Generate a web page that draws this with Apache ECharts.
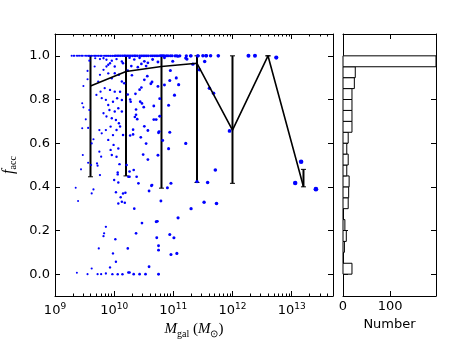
<!DOCTYPE html>
<html>
<head>
<meta charset="utf-8">
<script src="https://cdn.jsdelivr.net/npm/echarts@6/dist/echarts.min.js"></script>
<style>
  html, body { margin: 0; padding: 0; background: #fff; }
  #chart { width: 463px; height: 349px; }
</style>
</head>
<body>
<div id="chart"></div>
<script>
// galaxies sitting at f_acc = 1 (log10 of M_gal)
const topRowLogMass = [
  9.28, 9.31, 9.33, 9.37, 9.39, 9.42, 9.45, 9.47, 9.51, 9.54, 9.57, 9.59, 9.62, 9.66,
  9.68, 9.71, 9.74, 9.77, 9.79, 9.83, 9.86, 9.88, 9.91, 9.94, 9.97, 10.0, 10.02, 10.05,
  10.08, 10.11, 10.14, 10.17, 10.19, 10.22, 10.25, 10.28, 10.31, 10.34, 10.36, 10.39,
  10.43, 10.46, 10.49, 10.52, 10.55, 10.58, 10.62, 10.65, 10.68, 10.71, 10.74, 10.78,
  10.81, 10.84, 10.88, 10.91, 10.95, 10.98, 11.03, 11.06, 11.11, 11.22, 11.29, 11.30,
  11.41, 11.42, 11.50, 11.55, 11.56, 11.63, 11.76, 12.27, 12.38
]

// other galaxies: [log10 M_gal, f_acc]
const galaxies = [
  [11.21, 0.99], [11.23, 0.985], [12.74, 0.992],
  [9.55, 0.931], [9.55, 0.893], [9.48, 0.862], [9.46, 0.783], [9.48, 0.764], [9.58, 0.752],
  [9.52, 0.709], [9.46, 0.668], [9.56, 0.67], [9.47, 0.546], [9.56, 0.51], [9.58, 0.978],
  [9.44, 0.48], [9.35, 0.396], [9.39, 0.335], [9.65, 0.388], [9.62, 0.37], [9.61, 0.50],
  [9.72, 0.497], [9.76, 0.454],
  [9.67, 0.951], [9.76, 0.913], [9.73, 0.882], [9.82, 0.936], [9.87, 0.951], [9.93, 0.966],
  [9.90, 0.92], [9.96, 0.897], [10.01, 0.92], [10.08, 0.913], [10.13, 0.882], [10.17, 0.874],
  [9.84, 0.852], [9.93, 0.844], [10.01, 0.836], [10.10, 0.836], [9.77, 0.836], [9.70, 0.821],
  [9.79, 0.806], [9.86, 0.798], [9.90, 0.775], [9.98, 0.79], [10.05, 0.806], [10.13, 0.798],
  [9.92, 0.752], [10.01, 0.745], [10.07, 0.76], [10.13, 0.745], [9.82, 0.737], [9.87, 0.722],
  [9.96, 0.714], [10.03, 0.706], [10.08, 0.691], [9.94, 0.676], [9.86, 0.66], [9.75, 0.66],
  [9.79, 0.645], [10.04, 0.66], [10.10, 0.676], [9.98, 0.637], [9.90, 0.615], [9.99, 0.592],
  [10.07, 0.576], [9.94, 0.569], [9.75, 0.561], [9.78, 0.538], [9.96, 0.546], [10.04, 0.538],
  [9.71, 0.507], [10.09, 0.504], [10.15, 0.637], [9.65, 0.618], [9.62, 0.599], [9.76, 0.985],
  [9.87, 0.982], [9.96, 0.978], [10.04, 0.985], [10.13, 0.974], [9.90, 0.959], [10.01, 0.951],
  [10.15, 0.966], [9.68, 0.989], [9.82, 0.989],
  [10.26, 0.991], [10.34, 0.983], [10.43, 0.991], [10.51, 0.975], [10.57, 0.968], [10.65, 0.983],
  [10.74, 0.972], [10.46, 0.963], [10.29, 0.953], [10.40, 0.948], [10.54, 0.953], [10.85, 0.991],
  [10.99, 0.975], [11.08, 0.998], [10.95, 0.933], [10.23, 0.933], [10.30, 0.911], [10.56, 0.907],
  [10.51, 0.89], [10.64, 0.88], [10.62, 0.872], [10.94, 0.887], [11.05, 0.899], [11.09, 0.868],
  [10.85, 0.866], [10.74, 0.86], [10.46, 0.855], [10.43, 0.845], [10.23, 0.823], [10.36, 0.826],
  [11.02, 0.82], [10.77, 0.804], [10.27, 0.80], [10.28, 0.79], [10.44, 0.79], [10.47, 0.782],
  [10.50, 0.765], [10.92, 0.774], [10.67, 0.77], [10.37, 0.754], [10.35, 0.72], [10.37, 0.73],
  [10.39, 0.71], [10.77, 0.723], [10.67, 0.708], [10.71, 0.708], [10.51, 0.677], [10.32, 0.662],
  [10.57, 0.658], [10.76, 0.653], [10.75, 0.648], [10.94, 0.65], [10.32, 0.64], [10.27, 0.635],
  [10.45, 0.627], [10.82, 0.612], [10.54, 0.598], [10.92, 0.575], [10.49, 0.548], [10.74, 0.545],
  [10.57, 0.525],
  [11.33, 0.962], [11.53, 0.974], [11.44, 0.936], [11.61, 0.852], [11.68, 0.829], [11.21, 0.599],
  [11.95, 0.656], [13.16, 0.515],
  [10.06, 0.466], [10.06, 0.457], [10.0, 0.431], [10.07, 0.42], [10.24, 0.446], [10.21, 0.5],
  [10.03, 0.375], [10.15, 0.37], [10.19, 0.373], [10.11, 0.352], [10.13, 0.332], [10.07, 0.324],
  [10.18, 0.327], [9.86, 0.217], [9.83, 0.187], [9.82, 0.174], [10.02, 0.16], [9.74, 0.118],
  [10.23, 0.118], [9.98, 0.095], [10.03, 0.057], [9.93, 0.031], [9.62, 0.026], [9.37, 0.006],
  [9.55, 0.0], [9.72, 0.0], [9.78, 0.0], [9.86, 0.003], [9.97, 0.0], [10.06, 0.0], [10.14, 0.0],
  [10.24, 0.008],
  [10.26, 0.47], [10.33, 0.477], [10.26, 0.446], [10.38, 0.446], [10.41, 0.416], [10.64, 0.408],
  [10.63, 0.405], [10.59, 0.381], [10.9, 0.396], [10.96, 0.416], [11.58, 0.42], [11.40, 0.424],
  [10.79, 0.335], [10.34, 0.30], [11.30, 0.30], [11.52, 0.329], [11.08, 0.258], [10.47, 0.234],
  [10.71, 0.24], [10.73, 0.242], [10.37, 0.187], [10.94, 0.182], [11.01, 0.167], [10.72, 0.167],
  [10.75, 0.13], [10.75, 0.11], [10.96, 0.09], [11.06, 0.095], [10.59, 0.034], [10.26, 0.008],
  [10.33, 0.0], [10.43, 0.0], [10.53, 0.0], [10.75, 0.0],
  [11.71, 0.477], [11.73, 0.324], [13.06, 0.418], [13.41, 0.389]
]

// binned medians and their ranges
const binLogMass = [9.6, 10.2, 10.8, 11.4, 12.0, 12.6, 13.2]
const binMedian = [0.862, 0.928, 0.951, 0.966, 0.66, 1.0, 0.40]
const binLow = [0.446, 0.45, 0.394, 0.42, 0.416, 1.0, 0.40]
const binHigh = [1.0, 1.0, 1.0, 1.0, 1.0, 1.0, 0.48]

// histogram of f_acc (bin lower edges, width 0.05)
const histLow = [0.00, 0.05, 0.10, 0.15, 0.20, 0.25, 0.30, 0.35, 0.40, 0.45,
                 0.50, 0.55, 0.60, 0.65, 0.70, 0.75, 0.80, 0.85, 0.90, 0.95]
const histCount = [19, 1, 3, 7, 4, 1, 11, 12, 13, 8, 11, 8, 11, 19, 19, 19, 19, 24, 26, 197]
const histWidth = 0.05

// tick labels
const massTicks = [1e9, 1e10, 1e11, 1e12, 1e13]
const faccTicks = [0.0, 0.2, 0.4, 0.6, 0.8, 1.0]
const numberTicks = [0, 100]

const minorMassTicks = []
for (let d = 9; d <= 13; d++) {
  for (let k = 2; k <= 9; k++) {
    if (k * Math.pow(10, d) < 5e13) minorMassTicks.push(k * Math.pow(10, d))
  }
}

const FONT = 'DejaVu Sans'
const MATH = 'Liberation Serif'
const black = '#000'

const scatterData = topRowLogMass.map(m => [Math.pow(10, m), 1.0])
  .concat(galaxies.map(g => [Math.pow(10, g[0]), g[1]]))
const medianData = binLogMass.map((m, i) => [Math.pow(10, m), binMedian[i]])
const errData = binLogMass.map((m, i) => [Math.pow(10, m), binLow[i], binHigh[i]])
const histData = histLow.map((lo, i) => [lo, lo + histWidth, histCount[i]])

const chart = echarts.init(document.getElementById('chart'))

const massAxis = (extra) => Object.assign({
  type: 'log',
  logBase: 10,
  gridIndex: 0,
  min: 1e9,
  max: 5e13,
  splitLine: { show: false },
  axisLine: { show: true, onZero: false, lineStyle: { color: black, width: 1 } },
  axisTick: { show: true, inside: true, length: 5, customValues: massTicks, lineStyle: { color: black } },
  axisLabel: { show: false }
}, extra)

const faccAxis = (extra) => Object.assign({
  type: 'value',
  min: -0.1,
  max: 1.1,
  splitLine: { show: false },
  axisLine: { show: true, onZero: false, lineStyle: { color: black, width: 1 } },
  axisTick: { show: true, inside: true, length: 5, customValues: faccTicks, lineStyle: { color: black } },
  axisLabel: { show: false }
}, extra)

const option = {
  animation: false,
  backgroundColor: '#fff',
  grid: [
    { left: 55, top: 34, width: 278, height: 262, containLabel: false, outerBoundsMode: 'none' },
    { left: 343, top: 34, width: 93, height: 262, containLabel: false, outerBoundsMode: 'none' }
  ],
  xAxis: [
    massAxis({
      position: 'bottom',
      name: '{i|M}{s|gal} ({i|M}{s|\u2299})',
      nameLocation: 'middle',
      nameGap: 22,
      nameTextStyle: {
        rich: {
          i: { fontFamily: MATH, fontStyle: 'italic', fontSize: 15, color: black },
          s: { fontFamily: MATH, fontSize: 10, color: black, padding: [9, 0, 0, 0] }
        },
        fontFamily: MATH, fontSize: 15, color: black
      },
      axisLabel: {
        show: true,
        customValues: massTicks,
        margin: 6,
        formatter: v => '{b|10}{s|' + Math.round(Math.log10(v)) + '}',
        rich: {
          b: { fontFamily: FONT, fontSize: 13, color: black },
          s: { fontFamily: FONT, fontSize: 9, color: black, padding: [0, 0, 8, 0] }
        }
      }
    }),
    massAxis({ position: 'top' }),
    massAxis({
      position: 'bottom',
      axisLine: { show: false, onZero: false },
      axisTick: { show: true, inside: true, length: 2.5, customValues: minorMassTicks, lineStyle: { color: black } }
    }),
    massAxis({
      position: 'top',
      axisLine: { show: false, onZero: false },
      axisTick: { show: true, inside: true, length: 2.5, customValues: minorMassTicks, lineStyle: { color: black } }
    }),
    {
      type: 'value', gridIndex: 1, position: 'bottom', min: 0, max: 197,
      name: 'Number', nameLocation: 'middle', nameGap: 17,
      nameTextStyle: { fontFamily: FONT, fontSize: 13, color: black },
      splitLine: { show: false },
      axisLine: { show: true, onZero: false, lineStyle: { color: black, width: 1 } },
      axisTick: { show: true, inside: true, length: 5, customValues: numberTicks, lineStyle: { color: black } },
      axisLabel: { show: true, customValues: numberTicks, margin: 4, fontFamily: FONT, fontSize: 13, color: black }
    },
    {
      type: 'value', gridIndex: 1, position: 'top', min: 0, max: 197,
      splitLine: { show: false },
      axisLine: { show: true, onZero: false, lineStyle: { color: black, width: 1 } },
      axisTick: { show: true, inside: true, length: 5, customValues: numberTicks, lineStyle: { color: black } },
      axisLabel: { show: false }
    }
  ],
  yAxis: [
    faccAxis({
      gridIndex: 0,
      position: 'left',
      name: '{i|f}{s|acc}',
      nameLocation: 'middle',
      nameRotate: 90,
      nameGap: 30,
      nameTextStyle: {
        rich: {
          i: { fontFamily: MATH, fontStyle: 'italic', fontSize: 16, color: black },
          s: { fontFamily: MATH, fontSize: 10, color: black, padding: [9, 0, 0, 0] }
        }
      },
      axisLabel: {
        show: true,
        customValues: faccTicks,
        margin: 5,
        fontFamily: FONT,
        fontSize: 13,
        color: black,
        formatter: v => v.toFixed(1)
      }
    }),
    faccAxis({ gridIndex: 0, position: 'right' }),
    faccAxis({ gridIndex: 1, position: 'left' }),
    faccAxis({ gridIndex: 1, position: 'right' })
  ],
  series: [
    {
      type: 'scatter',
      xAxisIndex: 0,
      yAxisIndex: 0,
      data: scatterData,
      symbol: 'circle',
      // dot size grows with galaxy mass, as in the original
      symbolSize: val => Math.max(1.8, 2.0 + 0.68 * (Math.log10(val[0]) - 9.4)),
      itemStyle: { color: '#0000ff', opacity: 1 },
      silent: true
    },
    {
      type: 'line',
      xAxisIndex: 0,
      yAxisIndex: 0,
      data: medianData,
      symbol: 'none',
      lineStyle: { color: black, width: 1.6 },
      silent: true
    },
    {
      type: 'custom',
      xAxisIndex: 0,
      yAxisIndex: 0,
      data: errData,
      encode: { x: 0, y: [1, 2] },
      silent: true,
      renderItem: (params, api) => {
        const x = api.value(0)
        const pLo = api.coord([x, api.value(1)])
        const pHi = api.coord([x, api.value(2)])
        const cap = 2.5
        const st = { stroke: black, lineWidth: 2 }
        const capSt = { stroke: black, lineWidth: 1 }
        return {
          type: 'group',
          children: [
            { type: 'line', shape: { x1: pLo[0], y1: pLo[1], x2: pHi[0], y2: pHi[1] }, style: st },
            { type: 'line', shape: { x1: pLo[0] - cap, y1: pLo[1], x2: pLo[0] + cap, y2: pLo[1] }, style: capSt },
            { type: 'line', shape: { x1: pHi[0] - cap, y1: pHi[1], x2: pHi[0] + cap, y2: pHi[1] }, style: capSt }
          ]
        }
      }
    },
    {
      type: 'custom',
      xAxisIndex: 4,
      yAxisIndex: 2,
      data: histData,
      encode: { x: 2, y: [0, 1] },
      silent: true,
      renderItem: (params, api) => {
        const p0 = api.coord([0, api.value(1)])
        const p1 = api.coord([api.value(2), api.value(0)])
        return {
          type: 'rect',
          shape: { x: p0[0], y: p0[1], width: p1[0] - p0[0], height: p1[1] - p0[1] },
          style: { fill: '#fff', stroke: black, lineWidth: 1 }
        }
      }
    }
  ]
}

chart.setOption(option)
window.addEventListener('resize', () => chart.resize())
</script>
</body>
</html>
